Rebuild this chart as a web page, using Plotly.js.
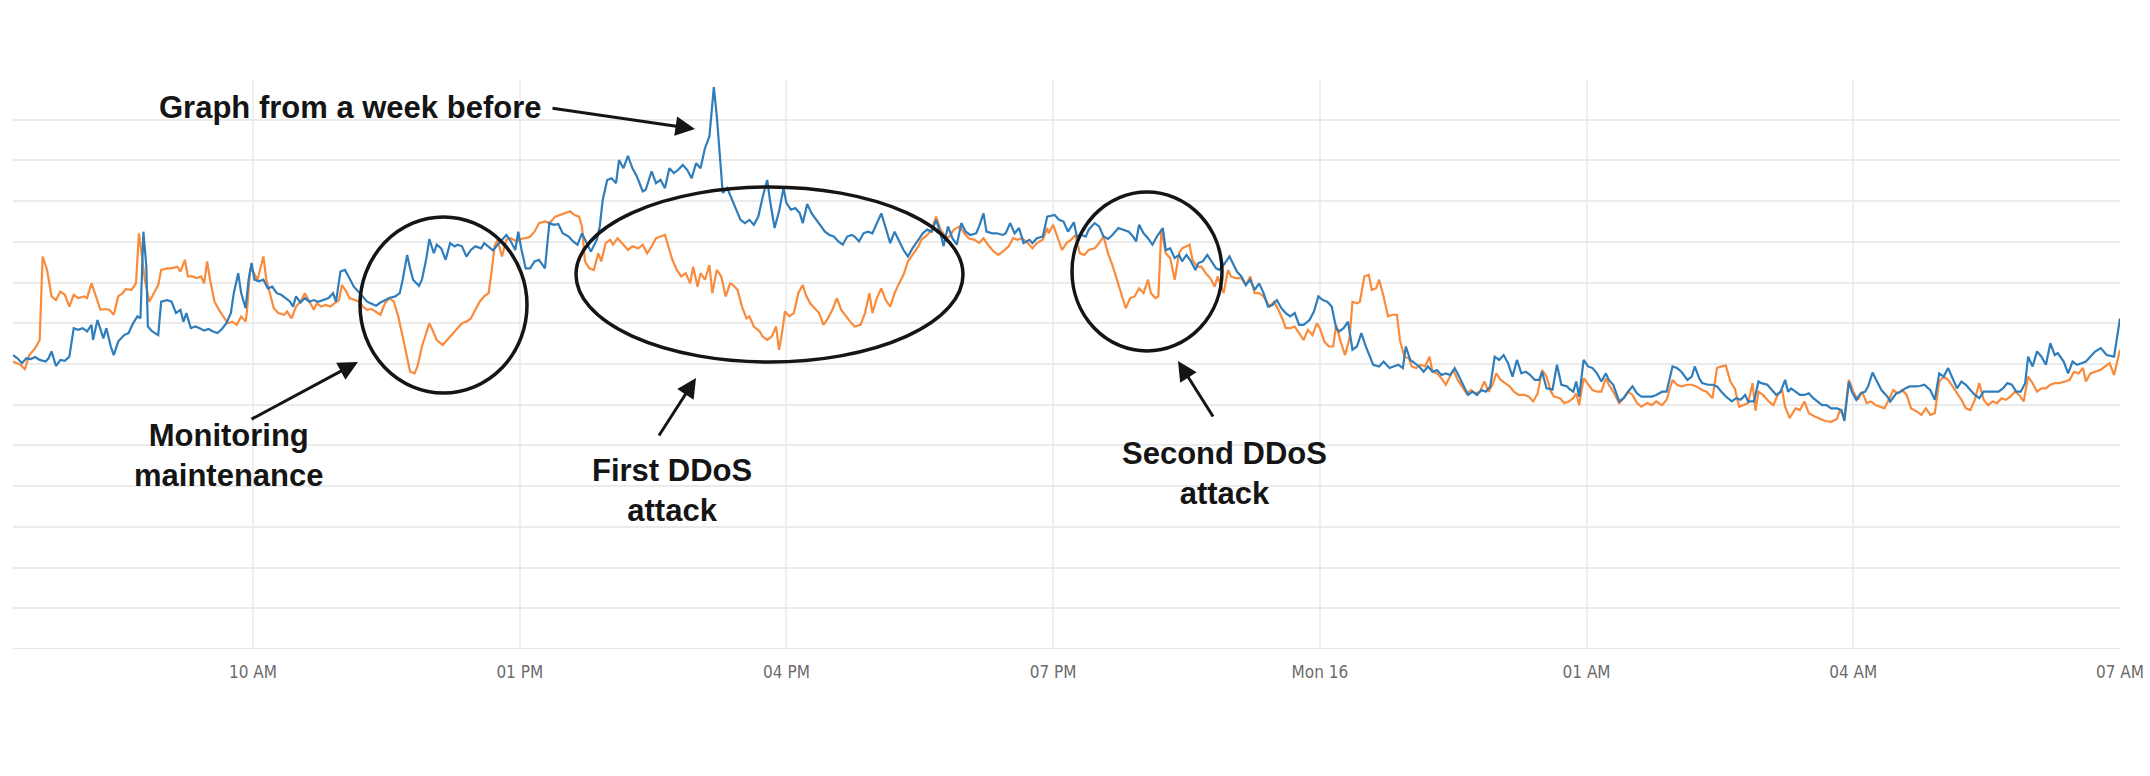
<!DOCTYPE html>
<html>
<head>
<meta charset="utf-8">
<script src="https://cdn.plot.ly/plotly-3.0.1.min.js"></script>
<style>
	html, body { margin: 0; padding: 0; background: #fff; }
	#myDiv1 { width: 2150px; height: 776px; }
</style>
</head>
<body>
<div id="myDiv1"></div>
<script>

// x = minutes after Sun 15 00:00, y = traffic (one grid step = 1)

// H| blue line, same day one week before
const weekBeforeMin = [
	438, 441, 444, 447, 450, 453, 456, 460, 462, 464, 467, 470, 473, 476, 479, 482, 485, 488, 491, 492,
	495, 497, 499, 501, 504, 506, 509, 513, 516, 519, 522, 524, 526, 528, 529, 532, 536, 538, 542, 545,
	548, 551, 553, 555, 558, 561, 564, 567, 570, 573, 576, 579, 582, 585, 587, 590, 592, 595, 597, 599,
	601, 604, 607, 610, 613, 616, 619, 622, 625, 627, 629, 632, 635, 638, 641, 644, 647, 651, 654, 656,
	659, 662, 665, 668, 671, 674, 677, 680, 683, 686, 689, 692, 696, 699, 701, 704, 706, 708, 712, 714,
	717, 719, 722, 724, 727, 730, 733, 736, 738, 741, 744, 747, 750, 754, 756, 759, 762, 765, 768, 771,
	774, 777, 779, 781, 784,
	787, 790, 793, 797, 800, 803, 806, 809, 813, 816, 819, 822, 825, 828, 832, 834, 836, 839, 842, 845,
	847, 850, 853, 856, 859, 863, 865, 869, 872, 875, 878, 881, 884, 887, 890, 893, 896, 899, 902, 905,
	908, 911, 913, 915, 917, 920, 923, 926, 929, 932, 935, 938, 941, 944, 947, 949, 952, 955, 958, 960,
	963, 966, 969, 971, 974, 977, 980, 983, 986, 989, 992, 995, 998, 1001, 1004, 1006, 1009, 1012, 1015, 1018,
	1020, 1024, 1027, 1030, 1033, 1036, 1039, 1042, 1045, 1049, 1052, 1055, 1058, 1061, 1064, 1066, 1069, 1072, 1075, 1078,
	1081, 1084, 1088, 1090, 1093, 1095, 1099, 1102, 1106, 1108, 1111, 1114, 1117, 1120, 1124, 1126, 1129, 1133, 1136,
	1141, 1144, 1147, 1150, 1154, 1156, 1159, 1162, 1164, 1168, 1171, 1174, 1177, 1180, 1184, 1187, 1191, 1194, 1196, 1198,
	1201, 1204, 1207, 1210, 1214, 1216, 1219, 1222, 1225, 1227, 1230, 1233, 1236, 1238, 1241, 1244, 1247, 1250, 1252, 1255,
	1259, 1261, 1264, 1267, 1270, 1273, 1276, 1279, 1282, 1285, 1288, 1291, 1294, 1297, 1300, 1303, 1306, 1309, 1313, 1316,
	1319, 1322, 1325, 1328, 1331, 1333, 1336, 1339, 1342, 1345, 1348, 1351, 1354, 1356, 1360, 1363, 1367, 1370, 1373, 1376,
	1378, 1381, 1384, 1387, 1390, 1393, 1396, 1399, 1402, 1405, 1408, 1411, 1414, 1417, 1420, 1423, 1426, 1429, 1432, 1435,
	1438, 1441, 1444, 1447, 1450, 1453, 1456, 1459, 1462, 1465, 1468, 1470, 1473, 1477, 1480, 1483, 1487,
	1488, 1491, 1493, 1495, 1498, 1501, 1504, 1507, 1510, 1513, 1515, 1518, 1522, 1525, 1528, 1531, 1534, 1537, 1541, 1544,
	1547, 1551, 1554, 1558, 1561, 1564, 1568, 1571, 1573, 1576, 1578, 1582, 1585, 1588, 1591, 1594, 1598, 1601, 1604, 1607,
	1609, 1613, 1616, 1618, 1622, 1625, 1628, 1631, 1634, 1636, 1638, 1641, 1644, 1647, 1650, 1653, 1656, 1659, 1662, 1665,
	1669, 1672, 1674, 1677, 1679, 1682, 1685, 1688, 1690, 1693, 1696, 1699, 1703, 1705, 1709, 1712, 1715, 1718, 1722, 1725,
	1728, 1732, 1735, 1738, 1741, 1744, 1747, 1750, 1753, 1756, 1759, 1762, 1765, 1768, 1771, 1774, 1778, 1781, 1784, 1787,
	1790, 1793, 1796, 1798, 1801, 1804, 1807, 1810, 1813, 1816, 1818, 1822, 1825, 1828, 1831, 1834, 1837,
	1843, 1847, 1851, 1856, 1860
]
const weekBeforeVal = [
	7.22, 7.14, 7.02, 7.14, 7.12, 7.17, 7.10, 7.06, 7.14, 7.31, 6.95, 7.10, 7.08, 7.18, 7.88, 7.84, 7.88, 7.80, 7.96, 7.59,
	8.08, 7.88, 7.63, 7.88, 7.43, 7.22, 7.55, 7.71, 7.76, 8.00, 8.17, 8.12, 10.25, 9.39, 7.92, 7.80, 7.71, 8.53, 8.57, 8.53,
	8.25, 8.33, 8.04, 8.25, 7.88, 7.92, 7.88, 7.82, 7.86, 7.80, 7.76, 7.86, 8.00, 8.25, 8.74, 9.23, 8.74, 8.37, 9.07, 9.48,
	9.07, 9.03, 9.07, 8.86, 8.90, 8.74, 8.70, 8.62, 8.53, 8.41, 8.66, 8.51, 8.62, 8.53, 8.57, 8.53, 8.57, 8.62, 8.74, 8.53,
	9.27, 9.31, 9.11, 8.90, 8.78, 8.66, 8.53, 8.48, 8.43, 8.51, 8.57, 8.62, 8.66, 8.74, 9.07, 9.68, 9.35, 9.07, 8.92, 9.07,
	9.60, 10.07, 9.72, 9.93, 9.84, 9.56, 9.97, 9.89, 9.93, 9.89, 9.64, 9.80, 9.89, 9.84, 9.97, 9.89, 9.79, 9.93, 10.05, 10.17,
	10.01, 9.80, 10.25, 9.84, 9.35,
	9.35, 9.52, 9.56, 9.35, 10.46, 10.42, 10.44, 10.21, 10.13, 10.01, 9.93, 10.21, 9.97, 9.76, 10.05, 10.38, 11.03, 11.52, 11.56, 11.44,
	12.01, 11.81, 12.11, 11.81, 11.61, 11.24, 11.28, 11.73, 11.44, 11.52, 11.32, 11.81, 11.69, 11.77, 11.89, 11.77, 11.56, 11.93, 11.81, 12.30,
	12.59, 13.80, 13.08, 12.01, 11.20, 11.32, 11.07, 10.79, 10.54, 10.46, 10.54, 10.42, 10.62, 11.11, 11.52, 10.99, 10.34, 10.75, 11.32, 10.95,
	10.79, 10.83, 10.70, 10.46, 10.93, 10.70, 10.54, 10.38, 10.25, 10.17, 10.13, 10.01, 9.93, 10.13, 10.17, 10.13, 10.01, 10.21, 10.25, 10.21,
	10.38, 10.70, 10.34, 9.97, 10.25, 10.01, 9.80, 9.64, 9.84, 10.05, 10.21, 10.30, 10.25, 10.54, 10.21, 9.89, 10.38, 10.09, 9.93, 10.46,
	10.25, 10.17, 10.21, 10.38, 10.70, 10.25, 10.21, 10.21, 10.17, 10.21, 10.46, 10.21, 10.34, 9.97, 10.05, 9.97, 10.09, 10.13, 10.62,
	10.66, 10.54, 10.50, 10.25, 10.48, 10.13, 10.17, 10.13, 10.30, 10.46, 10.38, 10.13, 10.07, 10.17, 10.34, 10.30, 10.25, 10.13, 10.01, 10.42,
	10.21, 10.09, 9.93, 10.13, 10.34, 9.80, 9.84, 9.60, 9.68, 9.52, 9.68, 9.52, 9.31, 9.48, 9.52, 9.68, 9.52, 9.35, 9.31, 9.43,
	9.64, 9.48, 9.27, 9.15, 8.94, 9.07, 8.82, 8.98, 8.74, 8.41, 8.45, 8.57, 8.37, 8.25, 8.17, 8.25, 7.96, 7.96, 8.08, 8.29,
	8.66, 8.57, 8.53, 8.41, 7.88, 7.80, 7.88, 8.04, 7.35, 7.43, 7.76, 7.43, 7.14, 6.98, 6.94, 7.06, 6.90, 6.94, 6.98, 6.90,
	7.43, 7.10, 7.02, 6.94, 6.81, 6.94, 6.81, 6.85, 6.73, 6.77, 6.73, 6.90, 6.69, 6.45, 6.24, 6.32, 6.24, 6.36, 6.32, 6.45,
	7.18, 7.10, 7.22, 7.02, 6.69, 7.10, 6.77, 6.81, 6.73, 6.61, 6.61, 6.81, 6.40, 6.37, 6.98, 6.49, 6.45,
	6.40, 6.32, 6.57, 6.20, 7.10, 6.94, 6.90, 6.77, 6.57, 6.77, 6.61, 6.49, 6.08, 6.16, 6.32, 6.45, 6.28, 6.20, 6.20, 6.20,
	6.24, 6.32, 6.32, 6.94, 6.90, 6.81, 6.61, 6.69, 6.94, 6.65, 6.53, 6.49, 6.49, 6.45, 6.32, 6.20, 6.08, 6.16, 6.12, 6.24,
	6.08, 6.08, 6.57, 6.53, 6.49, 6.36, 6.24, 6.32, 6.61, 6.32, 6.40, 6.32, 6.24, 6.24, 6.28, 6.16, 6.08, 5.99, 5.99, 5.91,
	5.91, 5.87, 5.60, 6.57, 6.32, 6.12, 6.28, 6.32, 6.45, 6.79, 6.57, 6.36, 6.20, 6.08, 6.28, 6.32, 6.40, 6.45, 6.45, 6.46,
	6.49, 6.36, 6.12, 6.77, 6.69, 6.90, 6.65, 6.40, 6.57, 6.49, 6.36, 6.24, 6.16, 6.32, 6.32, 6.32, 6.32, 6.40, 6.53, 6.49,
	6.32, 6.32, 6.53, 7.18, 6.94, 7.31, 7.18, 6.98, 7.51, 7.22, 7.27, 7.06, 6.77, 7.06, 6.98, 7.02, 7.06,
	7.30, 7.39, 7.22, 7.18, 8.12
]

// H| orange line, day of the attacks
const attackDayMin = [
	438, 443, 446, 449, 453, 456, 458, 461, 464, 467, 470, 473, 476, 479, 482, 486, 488, 491, 494, 497,
	500, 503, 506, 509, 512, 514, 518, 521, 523, 525, 527, 530, 533, 536, 538, 542, 545, 549, 551, 554,
	556, 559, 562, 565, 567, 569, 571, 574, 577, 580, 583, 586, 589, 592, 595, 596, 598, 600, 603, 605,
	607, 609, 612, 614, 617, 621, 623, 626, 629, 632, 635, 638, 641, 643, 646, 649, 652, 655, 658, 660,
	663, 665, 669, 672, 674, 677, 680, 683, 686, 689, 692, 695, 698, 701, 704, 706, 709, 711, 714, 717,
	719, 722, 724, 728, 731, 734, 737, 741, 744, 747, 750, 753, 756, 759, 761, 763, 765, 768, 771, 774,
	778, 781, 786,
	787, 790, 793, 797, 800, 804, 807, 810, 814, 817, 820, 822, 824, 827, 830, 833, 835, 838, 841, 843,
	846, 850, 853, 856, 860, 863, 866, 869, 872, 875, 878, 881, 883, 886, 889, 892, 895, 897, 900, 902,
	905, 908, 910, 913, 916, 919, 922, 924, 927, 930, 933, 935, 938, 942, 944, 947, 950, 953, 955, 957,
	959, 962, 965, 968, 971, 973, 976, 979, 982, 985, 988, 991, 994, 997, 1000, 1003, 1006, 1010, 1013, 1016,
	1018, 1021, 1024, 1027, 1030, 1033, 1036, 1039, 1042, 1046, 1049, 1051, 1055, 1058, 1061, 1064, 1068, 1070, 1073, 1077,
	1080, 1083, 1087, 1090, 1093, 1096, 1100, 1103, 1106, 1110, 1113, 1116, 1119, 1123, 1126, 1129, 1133, 1136,
	1137, 1140, 1143, 1146, 1149, 1152, 1155, 1158, 1161, 1164, 1168, 1171, 1174, 1177, 1180, 1183, 1186, 1189, 1192, 1195,
	1198, 1201, 1204, 1206, 1209, 1211, 1213, 1216, 1219, 1222, 1225, 1227, 1230, 1232, 1234, 1237, 1240, 1243, 1246, 1249,
	1251, 1255, 1258, 1260, 1263, 1267, 1270, 1273, 1276, 1279, 1282, 1286, 1289, 1292, 1295, 1297, 1300, 1303, 1306, 1309,
	1312, 1315, 1318, 1320, 1323, 1326, 1329, 1331, 1334, 1337, 1340, 1342, 1345, 1347, 1350, 1353, 1355, 1358, 1360, 1363,
	1366, 1369, 1372, 1374, 1377, 1380, 1382, 1385, 1388, 1391, 1394, 1396, 1399, 1402, 1405, 1407, 1410, 1413, 1416, 1419,
	1422, 1425, 1428, 1431, 1434, 1437, 1439, 1442, 1445, 1448, 1451, 1454, 1458, 1461, 1464, 1467, 1470, 1473, 1476, 1478,
	1482, 1485,
	1488, 1491, 1493, 1495, 1498, 1501, 1504, 1507, 1510, 1513, 1515, 1518, 1522, 1525, 1528, 1531, 1534, 1537, 1541, 1544,
	1547, 1551, 1554, 1558, 1561, 1564, 1568, 1571, 1574, 1578, 1581, 1585, 1588, 1591, 1594, 1597, 1600, 1603, 1606, 1609,
	1612, 1614, 1616, 1619, 1623, 1626, 1629, 1632, 1634, 1637, 1641, 1644, 1647, 1650, 1654, 1657, 1661, 1665, 1669, 1671,
	1674, 1677, 1680, 1683, 1686, 1689, 1692, 1695, 1698, 1701, 1704, 1707, 1710, 1713, 1716, 1719, 1723, 1726, 1729, 1732,
	1735, 1738, 1741, 1744, 1747, 1750, 1753, 1756, 1759, 1762, 1765, 1768, 1771, 1774, 1777, 1780, 1783, 1786, 1789, 1792,
	1795, 1798, 1801, 1804, 1807, 1810, 1813, 1816, 1819, 1823, 1826, 1829, 1832, 1835, 1837,
	1840, 1847, 1853, 1856, 1860
]
const attackDayVal = [
	7.06, 6.98, 6.87, 7.22, 7.39, 7.59, 9.64, 9.31, 8.66, 8.57, 8.78, 8.70, 8.41, 8.70, 8.62, 8.66, 8.62, 8.98, 8.66, 8.33,
	8.35, 8.33, 8.21, 8.66, 8.74, 8.84, 8.82, 8.98, 10.21, 9.56, 9.07, 8.53, 8.74, 8.94, 9.31, 9.35, 9.35, 9.39, 9.27, 9.56,
	9.15, 9.15, 9.11, 9.15, 8.98, 9.52, 9.07, 8.53, 8.33, 8.17, 8.00, 8.04, 7.96, 8.17, 8.04, 8.33, 9.31, 9.27, 9.07, 9.35,
	9.64, 9.07, 8.66, 8.37, 8.25, 8.21, 8.29, 8.12, 8.41, 8.53, 8.74, 8.53, 8.33, 8.49, 8.41, 8.45, 8.41, 8.49, 8.57, 8.94,
	8.78, 8.62, 8.57, 8.53, 8.41, 8.33, 8.35, 8.29, 8.21, 8.49, 8.62, 8.53, 8.17, 7.67, 7.18, 6.81, 6.77, 6.94, 7.43, 7.76,
	8.00, 7.76, 7.59, 7.47, 7.59, 7.71, 7.84, 8.00, 8.04, 8.12, 8.33, 8.53, 8.66, 8.74, 9.27, 9.89, 10.05, 9.64, 10.05, 10.09,
	10.01, 10.07, 10.11,
	10.13, 10.25, 10.46, 10.50, 10.46, 10.62, 10.66, 10.70, 10.75, 10.66, 10.62, 10.38, 9.52, 9.35, 9.31, 9.72, 9.52, 9.97, 10.05, 9.93,
	10.09, 9.93, 9.80, 9.89, 9.84, 9.93, 9.72, 9.89, 10.09, 10.13, 10.17, 9.80, 9.56, 9.31, 9.15, 9.23, 8.98, 9.39, 8.90, 9.23,
	9.07, 9.43, 8.74, 9.31, 9.15, 8.66, 8.98, 8.94, 8.82, 8.41, 8.12, 8.17, 7.92, 7.80, 7.67, 7.59, 7.67, 7.92, 7.35, 7.76,
	8.29, 8.17, 8.25, 8.74, 8.94, 8.70, 8.49, 8.37, 8.25, 7.96, 8.12, 8.33, 8.62, 8.33, 8.17, 8.04, 7.92, 7.96, 8.25, 8.74,
	8.25, 8.62, 8.86, 8.57, 8.41, 8.74, 8.98, 9.19, 9.52, 9.72, 9.89, 10.05, 10.17, 10.30, 10.62, 10.30, 10.09, 10.13, 10.30, 10.38,
	10.21, 10.09, 10.05, 9.97, 10.09, 9.93, 9.76, 9.68, 9.76, 9.89, 10.09, 10.05, 10.09, 9.97, 9.84, 9.97, 10.05, 10.34,
	10.21, 10.42, 10.09, 9.80, 9.97, 10.05, 10.17, 9.72, 9.68, 9.80, 9.84, 9.97, 10.13, 9.72, 9.43, 9.07, 8.74, 8.37, 8.62, 8.66,
	8.86, 8.74, 9.07, 8.74, 8.62, 8.66, 10.30, 9.72, 9.60, 9.07, 9.72, 9.84, 9.89, 9.93, 9.56, 9.39, 9.39, 9.23, 9.11, 8.90,
	9.15, 8.74, 9.31, 9.15, 9.11, 9.11, 8.94, 9.15, 8.74, 8.74, 8.66, 8.41, 8.53, 8.33, 8.08, 7.88, 7.88, 7.92, 7.76, 7.59,
	7.84, 7.71, 8.00, 7.88, 7.55, 7.43, 7.43, 7.96, 7.55, 7.22, 7.63, 8.53, 8.49, 8.53, 9.15, 9.19, 8.82, 8.86, 9.07, 8.66,
	8.17, 8.21, 8.21, 7.59, 7.18, 7.14, 6.94, 6.90, 6.98, 6.94, 7.18, 6.81, 6.77, 6.65, 6.49, 6.65, 6.85, 6.61, 6.45, 6.28,
	6.36, 6.28, 6.32, 6.57, 6.32, 6.53, 6.77, 6.61, 6.53, 6.45, 6.32, 6.24, 6.24, 6.20, 6.08, 6.28, 6.85, 6.69, 6.32, 6.20,
	6.16, 6.04,
	6.08, 6.16, 6.28, 5.99, 6.65, 6.49, 6.36, 6.32, 6.32, 6.65, 6.49, 6.32, 6.04, 6.16, 6.32, 6.24, 6.04, 5.95, 6.04, 5.99,
	6.08, 5.99, 6.12, 6.61, 6.49, 6.45, 6.49, 6.49, 6.45, 6.36, 6.32, 6.16, 6.90, 6.94, 6.96, 6.57, 6.40, 5.95, 5.99, 6.04,
	6.53, 5.85, 6.32, 6.24, 6.08, 5.99, 6.24, 6.36, 5.95, 5.67, 5.91, 5.87, 6.08, 5.79, 5.71, 5.67, 5.60, 5.58, 5.65, 5.87,
	5.70, 6.61, 6.32, 6.12, 6.32, 6.04, 6.08, 5.99, 5.95, 5.91, 6.12, 6.36, 6.28, 6.36, 6.24, 5.91, 5.83, 5.75, 5.91, 5.75,
	5.79, 6.57, 6.69, 6.61, 6.45, 6.28, 6.12, 5.91, 5.87, 6.12, 6.53, 6.12, 5.99, 6.08, 6.04, 6.16, 6.12, 6.20, 6.32, 6.24,
	6.08, 6.69, 6.53, 6.32, 6.40, 6.40, 6.49, 6.53, 6.53, 6.57, 6.61, 6.81, 6.77, 6.90, 6.57,
	6.77, 6.86, 7.02, 6.73, 7.35
]

// H| x ticks (3 h apart, the 10 PM one is printed as the day)
const tickMin = [600, 780, 960, 1140, 1320, 1500, 1680, 1860]
const tickText = ['10 AM', '01 PM', '04 PM', '07 PM', 'Mon 16', '01 AM', '04 AM', '07 AM']

const noteText = [
	'Graph from a week before',
	'Monitoring<br>maintenance',
	'First DDoS<br>attack',
	'Second DDoS<br>attack'
]


// H| page geometry (px of the 2150x776 picture)
const W = 2150
const H = 776
const M = { l: 13, r: 30, t: 79, b: 127, pad: 0 }

function px(x) {
	return (x - M.l) / (W - M.l - M.r)
}
function py(y) {
	return (H - M.b - y) / (H - M.t - M.b)
}

function toDate(min) {
	const d = new Date(Date.UTC(2017, 9, 15, 0, min))
	return d.toISOString().slice(0, 19).replace('T', ' ')
}


function note(text, x, y) {
	return {
		xref: 'paper', yref: 'paper', x: px(x), y: py(y),
		text: '<b>' + text + '</b>',
		showarrow: false, xanchor: 'center', yanchor: 'middle', align: 'center',
		font: { family: 'Liberation Sans, Arial, sans-serif', size: 31, color: '#151515' }
	}
}

// tail (x0,y0) -> head (x1,y1)
function arrow(x0, y0, x1, y1) {
	return {
		xref: 'paper', yref: 'paper', x: px(x1), y: py(y1),
		ax: x0 - x1, ay: y0 - y1,
		text: '', showarrow: true,
		arrowhead: 2, arrowsize: 1.3, arrowwidth: 3, arrowcolor: '#151515'
	}
}

function ring(x0, y0, x1, y1) {
	return {
		type: 'circle', xref: 'paper', yref: 'paper',
		x0: px(x0), x1: px(x1), y0: py(y1), y1: py(y0),
		line: { color: '#151515', width: 3.5 }
	}
}


drawChart()
function drawChart() {
	const trace1 = {
		x: attackDayMin.map(toDate),
		y: attackDayVal,
		type: 'scatter',
		mode: 'lines',
		line: { color: '#f98b3d', width: 2.2 }
	}

	const trace2 = {
		x: weekBeforeMin.map(toDate),
		y: weekBeforeVal,
		type: 'scatter',
		mode: 'lines',
		line: { color: '#2f7dbb', width: 2.2 }
	}

	const layout = {
		width: W,
		height: H,
		showlegend: false,
		margin: M,
		paper_bgcolor: '#ffffff',
		plot_bgcolor: '#ffffff',
		xaxis: {
			type: 'date',
			range: [toDate(438), toDate(1860)],
			tickmode: 'array',
			tickvals: tickMin.map(toDate),
			ticktext: tickText,
			ticks: 'outside',
			ticklen: 8,
			tickcolor: 'rgba(0,0,0,0)',
			tickfont: { family: 'Liberation Sans Narrow, DejaVu Sans Condensed, sans-serif', size: 17, color: '#6b6b6b' },
			showgrid: true,
			gridcolor: '#efefef',
			gridwidth: 2,
			zeroline: false,
			showline: false
		},
		yaxis: {
			range: [0, 14],
			tick0: 0,
			dtick: 1,
			showticklabels: false,
			ticks: '',
			showgrid: true,
			gridcolor: '#ebebeb',
			gridwidth: 2,
			zeroline: false,
			showline: false
		},
		shapes: [
			// bottom grid line, Plotly leaves it out at the range edge
			{
				type: 'line', xref: 'paper', yref: 'y', x0: 0, x1: 1, y0: 0, y1: 0,
				line: { color: '#e6e6e6', width: 2 }, layer: 'below'
			},
			ring(360, 217, 527, 393),
			ring(576, 187, 963, 362),
			ring(1072, 192, 1222, 351)
		],
		annotations: [
			note(noteText[0], 350, 107),
			note(noteText[1], 229, 455),
			note(noteText[2], 672, 490),
			note(noteText[3], 1224, 474),
			arrow(551, 108, 695, 129),
			arrow(250, 420, 358, 362),
			arrow(658, 437, 696, 378),
			arrow(1214, 418, 1178, 361)
		]
	}

	Plotly.newPlot('myDiv1', [trace1, trace2], layout, {
		displayModeBar: false,
		staticPlot: true
	})
}

</script>
</body>
</html>
